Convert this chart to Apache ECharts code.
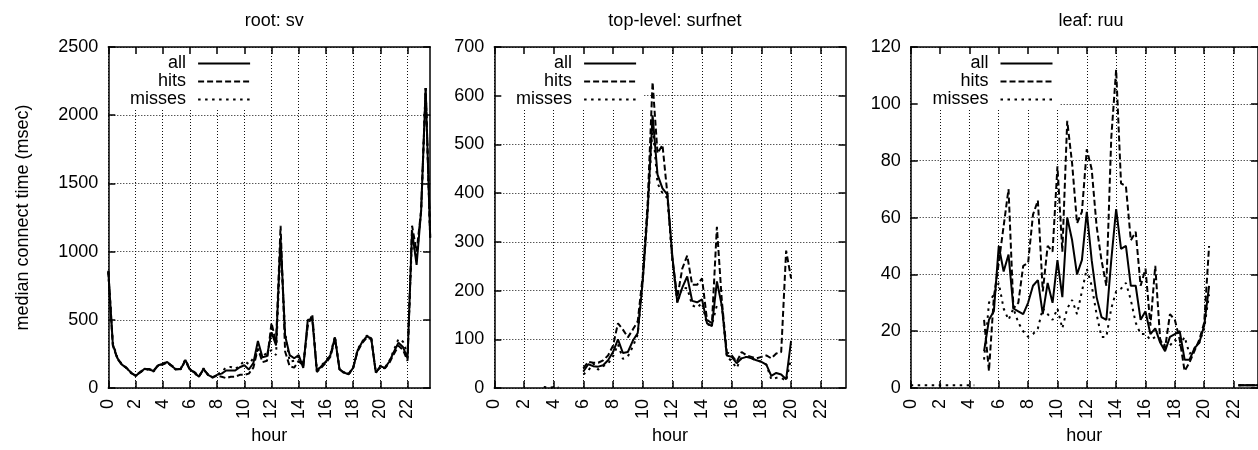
<!DOCTYPE html>
<html><head><meta charset="utf-8">
<script src="https://cdn.jsdelivr.net/npm/echarts@6/dist/echarts.min.js"></script>
<style>html,body{margin:0;padding:0;background:#fff}#c{width:1258px;height:450px}</style>
</head><body><div id="c"></div>
<script>
const N = null;
// 20-minute bins over the day
const hours = ['0','0:20','0:40','1','1:20','1:40','2','2:20','2:40','3','3:20','3:40',
 '4','4:20','4:40','5','5:20','5:40','6','6:20','6:40','7','7:20','7:40',
 '8','8:20','8:40','9','9:20','9:40','10','10:20','10:40','11','11:20','11:40',
 '12','12:20','12:40','13','13:20','13:40','14','14:20','14:40','15','15:20','15:40',
 '16','16:20','16:40','17','17:20','17:40','18','18:20','18:40','19','19:20','19:40',
 '20','20:20','20:40','21','21:20','21:40','22','22:20','22:40','23','23:20','23:40'];
const seriesNames = ['all','hits','misses'];
const titles = ['root: sv','top-level: surfnet','leaf: ruu'];
const yMax = [2500, 700, 120];
const yStep = [500, 100, 20];

const svAll = [855,320,219,172,148,113,90,113,141,136,125,167,
 176,191,160,136,141,207,136,113,83,141,97,78,
 97,106,129,129,129,153,167,136,184,345,225,235,
 409,313,1100,383,242,219,242,148,501,501,125,160,
 195,242,372,136,113,101,148,278,337,379,365,113,
 160,148,195,266,332,301,219,1150,903,1300,2200,1100];
const svHits = [860,310,215,170,150,110,92,118,138,140,128,170,
 172,188,165,140,138,200,132,118,88,135,100,80,
 90,83,73,83,83,97,97,106,150,290,190,200,
 478,330,1190,268,160,150,200,160,460,540,118,150,
 185,230,360,140,110,105,150,270,330,370,360,118,
 150,145,185,250,310,280,200,1190,1000,1300,2200,1100];
const svMisses = [850,330,222,175,146,115,88,110,145,132,122,165,
 180,193,158,132,145,210,140,110,80,145,95,76,
 100,120,150,155,140,165,200,175,220,268,230,260,
 278,242,1050,410,195,200,230,170,470,510,130,165,
 200,250,380,132,116,100,146,285,340,385,370,110,
 165,150,200,280,360,340,250,1100,950,1300,2200,1100];

const surfAll = [N,N,N,N,N,N,N,N,N,N,N,N,
 N,N,N,N,N,N,34,49,45,44,47,57,
 74,100,72,74,97,113,219,364,560,438,410,397,
 270,176,206,229,179,176,182,133,127,219,169,67,
 64,51,61,64,61,57,54,48,25,31,28,18,
 97,N,N,N,N,N,N,N,N,N,N,N];
const surfHits = [N,N,N,N,N,N,N,N,N,N,N,N,
 N,N,N,N,N,N,41,54,52,52,57,67,
 87,133,120,104,120,137,230,380,628,482,499,397,
 265,186,245,272,212,212,225,140,133,331,179,74,
 67,54,74,67,64,61,64,67,61,71,74,282,
 225,N,N,N,N,N,N,N,N,N,N,N];
const surfMisses = [N,N,N,N,N,N,N,N,N,N,2,1,
 2,1,N,N,N,N,28,36,50,38,45,50,
 65,90,60,65,85,110,220,360,540,420,400,390,
 260,175,206,205,170,165,175,130,130,170,170,65,
 55,41,64,64,61,57,54,48,18,21,21,15,
 61,N,N,N,N,N,N,N,N,N,N,N];

const ruuAll = [N,N,N,N,N,N,N,N,N,N,N,N,
 N,N,N,13,24,27,50,41,47,28,27,26,
 30,36,38,26,37,30,45,32,60,52,40,45,
 62,45,32,25,24,45,63,49,50,36,36,24,
 27,19,21,16,13,18,19,20,10,10,14,16,
 22,36,N,N,N,N,N,1,1,1,1,1];
const ruuHits = [N,N,N,N,N,N,N,N,N,N,N,N,
 N,N,N,24,6,32,44,57,70,28,30,43,
 44,61,66,34,50,48,78,48,94,79,58,62,
 84,77,57,45,36,88,112,72,71,52,55,36,
 42,22,43,17,14,26,24,17,6,9,13,17,
 23,50,N,N,N,N,N,1,1,1,1,1];
const ruuMisses = [1,1,1,1,1,1,1,1,1,1,1,1,
 1,1,N,10,30,33,37,28,24,28,23,20,
 18,19,21,28,26,24,28,21,28,31,26,34,
 42,36,26,18,18,28,34,35,37,31,23,19,
 19,17,18,17,15,15,17,15,18,12,14,16,
 21,33,N,N,N,N,N,1,1,1,1,1];

const panelData = [[svAll,svHits,svMisses],[surfAll,surfHits,surfMisses],[ruuAll,ruuHits,ruuMisses]];

// layout (pixels)
const FONT = 'Liberation Sans, Arial, Helvetica, sans-serif';
const gridBoxes = [
  {left:108.3, top:47, width:321.9, height:354},
  {left:494.3, top:47, width:351.2, height:354},
  {left:910.7, top:47, width:350.8, height:354}
];
const dashTypes = ['solid', [6,3], [2.5,4.5]];
const txt = {fontSize:18, fontFamily:FONT, color:'#000'};
const black = {color:'#000', width:1.5};
const gridDot = {color:'#111', width:1, type:[1,2]};

const option = {
  animation:false,
  backgroundColor:'#fff',
  title:[], grid:[], xAxis:[], yAxis:[], legend:[], series:[]
};

gridBoxes.forEach((g, i) => {
  option.grid.push(Object.assign({containLabel:false, show:false}, g));
  option.title.push({text:titles[i], left:g.left + g.width/2, top:7, textAlign:'center',
    textStyle:Object.assign({fontWeight:'normal'}, txt)});
  // bottom x axis: labels, grid lines
  option.xAxis.push({type:'category', gridIndex:i, data:hours, boundaryGap:false, position:'bottom', z:0,
    axisLine:{show:true, onZero:false, lineStyle:black},
    axisTick:{show:true, inside:true, length:7, interval:5, lineStyle:black},
    axisLabel:{show:true, interval:5, rotate:90, margin:11, fontSize:18, fontFamily:FONT, color:'#000'},
    splitLine:{show:true, interval:5, lineStyle:gridDot},
    name:'hour', nameLocation:'middle', nameGap:31, nameTextStyle:txt});
  // top mirror axis
  option.xAxis.push({type:'category', gridIndex:i, data:hours, boundaryGap:false, position:'top', z:10,
    axisLine:{show:true, onZero:false, lineStyle:black},
    axisTick:{show:true, inside:true, length:7, interval:5, lineStyle:black},
    axisLabel:{show:false}, splitLine:{show:false}});
  // left y axis: labels
  const yl = {type:'value', gridIndex:i, min:0, max:yMax[i], interval:yStep[i], position:'left', z:10,
    axisLine:{show:true, onZero:false, lineStyle:black},
    axisTick:{show:true, inside:true, length:7, lineStyle:black},
    axisLabel:{show:true, margin:10, fontSize:18, fontFamily:FONT, color:'#000', formatter:v => String(v)},
    splitLine:{show:false}};
  if (i === 0) {
    yl.name = 'median connect time (msec)';
    yl.nameLocation = 'middle';
    yl.nameGap = 76;
    yl.nameTextStyle = txt;
  }
  option.yAxis.push(yl);
  // right mirror axis with horizontal grid lines
  option.yAxis.push({type:'value', gridIndex:i, min:0, max:yMax[i], interval:yStep[i], position:'right', z:0,
    axisLine:{show:true, onZero:false, lineStyle:black},
    axisTick:{show:true, inside:true, length:7, lineStyle:black},
    axisLabel:{show:false}, splitLine:{show:true, lineStyle:gridDot}});
  // key
  option.legend.push({orient:'vertical', align:'right', right:1258 - (g.left + 142.8) - 6, top:49,
    padding:[5.5, 6, 1, 20], itemWidth:52, itemHeight:19, itemGap:0, backgroundColor:'#fff',
    selectedMode:false, z:4, data:seriesNames,
    itemStyle:{opacity:0, color:'rgba(0,0,0,0)', borderWidth:0},
    textStyle:{fontSize:18, fontFamily:FONT, color:'#000', padding:[0,7,0,0]}});
  seriesNames.forEach((nm, k) => {
    option.series.push({type:'line', name:nm, xAxisIndex:2*i, yAxisIndex:2*i,
      data:panelData[i][k], symbol:'none', showSymbol:false, connectNulls:false, clip:true,
      itemStyle:{color:'#000'},
      lineStyle:{color:'#000', width:2, type:dashTypes[k], cap:'butt'}});
  });
});

const chart = echarts.init(document.getElementById('c'), null, {renderer:'canvas'});
chart.setOption(option);
</script>
</body></html>
